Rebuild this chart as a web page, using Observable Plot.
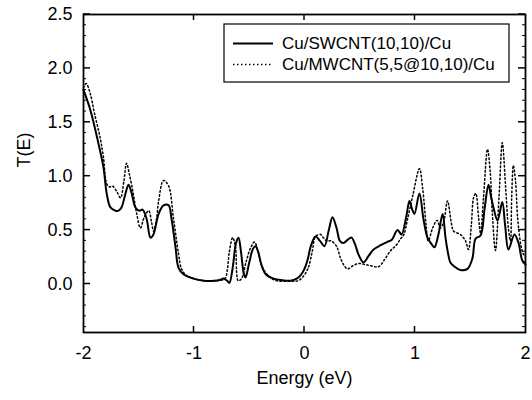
<!DOCTYPE html>
<html><head><meta charset="utf-8">
<script src="https://cdn.jsdelivr.net/npm/d3@7"></script>
<script src="https://cdn.jsdelivr.net/npm/@observablehq/plot@0.6"></script>
<style>
body{margin:0;background:#fff;}
#chart{position:relative;width:532px;height:400px;}
</style>
</head><body><div id="chart"></div>
<script>
const seriesNames = ["Cu/SWCNT(10,10)/Cu", "Cu/MWCNT(5,5@10,10)/Cu"];

const swE = [-2.0,-1.937,-1.864,-1.819,-1.79,-1.756,-1.71,-1.683,-1.656,-1.62,-1.593,-1.566,-1.53,-1.493,-1.466,-1.43,-1.394,-1.367,-1.32,-1.276,-1.23,-1.204,-1.167,-1.14,-1.095,-1.005,-0.91,
  -0.82,-0.76,-0.733,-0.70,-0.68,-0.65,-0.62,-0.597,-0.575,-0.55,-0.534,-0.50,-0.465,-0.443,-0.42,-0.39,-0.35,-0.28,-0.2,-0.127,-0.07,-0.036,0.0,0.027,0.06,0.1,0.14,0.18,0.22,0.253,0.29,0.32,0.353,0.39,0.425,0.46,0.49,0.534,0.58,0.625,0.69,0.75,0.79,0.842,0.878,0.92,0.95,0.975,0.995,1.04,1.077,1.113,1.15,1.176,1.21,1.25,1.276,1.30,1.32,1.36,1.41,1.475,1.52,1.548,1.593,1.63,1.665,1.69,1.71,1.747,1.79,1.815,1.846,1.9,1.937,1.97,2.0];
const swT = [1.80,1.61,1.30,1.08,0.84,0.71,0.68,0.68,0.71,0.84,0.92,0.85,0.71,0.68,0.69,0.61,0.43,0.46,0.65,0.73,0.73,0.61,0.34,0.15,0.09,0.05,0.03,
  0.03,0.04,0.05,0.03,0.01,0.15,0.38,0.43,0.30,0.10,0.06,0.20,0.33,0.35,0.30,0.18,0.09,0.05,0.035,0.03,0.05,0.08,0.14,0.22,0.36,0.44,0.40,0.35,0.50,0.62,0.52,0.40,0.38,0.41,0.43,0.36,0.27,0.20,0.26,0.32,0.36,0.39,0.41,0.50,0.46,0.62,0.77,0.69,0.65,0.84,0.60,0.43,0.37,0.34,0.45,0.65,0.43,0.28,0.20,0.16,0.13,0.14,0.24,0.42,0.45,0.70,0.92,0.80,0.71,0.59,0.76,0.55,0.32,0.46,0.38,0.22,0.18];

const mwE = [-2.0,-1.975,-1.94,-1.90,-1.85,-1.82,-1.79,-1.765,-1.74,-1.70,-1.665,-1.635,-1.61,-1.585,-1.55,-1.52,-1.485,-1.45,-1.41,-1.385,-1.366,-1.34,-1.32,-1.276,-1.23,-1.186,-1.14,-1.113,-1.07,-1.0,-0.91,
  -0.8,-0.72,-0.70,-0.68,-0.65,-0.625,-0.60,-0.57,-0.53,-0.49,-0.452,-0.42,-0.38,-0.31,-0.25,-0.15,-0.06,-0.02,0.03,0.07,0.10,0.145,0.17,0.20,0.24,0.29,0.326,0.36,0.39,0.44,0.49,0.55,0.60,0.67,0.72,0.78,0.83,0.87,0.90,0.93,0.98,1.04,1.07,1.10,1.12,1.16,1.20,1.23,1.26,1.294,1.33,1.35,1.41,1.457,1.484,1.51,1.53,1.55,1.575,1.593,1.62,1.656,1.68,1.70,1.728,1.76,1.79,1.82,1.845,1.864,1.875,1.89,1.91,1.93,1.96,1.98,2.0];
const mwT = [1.82,1.86,1.77,1.58,1.36,1.18,0.93,0.90,0.91,0.86,0.80,0.95,1.12,1.02,0.84,0.66,0.52,0.62,0.68,0.58,0.49,0.60,0.77,0.96,0.91,0.61,0.28,0.14,0.08,0.05,0.03,
  0.03,0.05,0.12,0.30,0.43,0.35,0.03,0.05,0.20,0.33,0.39,0.30,0.15,0.06,0.03,0.025,0.03,0.06,0.14,0.30,0.44,0.46,0.43,0.40,0.40,0.35,0.24,0.17,0.14,0.17,0.19,0.18,0.17,0.16,0.22,0.31,0.36,0.42,0.46,0.59,0.82,1.07,0.88,0.55,0.40,0.52,0.59,0.52,0.58,0.77,0.56,0.49,0.46,0.40,0.32,0.55,0.80,0.84,0.62,0.47,0.80,1.25,1.05,0.65,0.31,0.80,1.31,0.90,0.52,0.40,0.80,1.10,0.95,0.60,0.35,0.28,0.25];

const xTickValues = [-2, -1, 0, 1, 2];
const xInnerTicks = [-1, 0, 1];
const yTickValues = [0, 0.5, 1.0, 1.5, 2.0, 2.5];
const yMinorTicks = d3.range(-4, 25).map(i => i / 10).filter(v => Math.abs(v * 2 - Math.round(v * 2)) > 1e-6);
const xLabel = "Energy (eV)";
const yLabel = "T(E)";

const sw = swE.map((e, i) => ({E: e, T: swT[i], s: seriesNames[0]}));
const mw = mwE.map((e, i) => ({E: e, T: mwT[i], s: seriesNames[1]}));

const font = "'Liberation Sans', Arial, sans-serif";
const dots = "1.5,2.5";

const plot = Plot.plot({
  width: 532, height: 400,
  marginLeft: 83, marginRight: 7, marginTop: 14, marginBottom: 68,
  style: {fontFamily: font, fontSize: "18px", color: "#000", background: "#fff"},
  x: {domain: [-2, 2]},
  y: {domain: [-0.45, 2.5]},
  marks: [
    Plot.axisX({anchor: "bottom", ticks: xTickValues, tickSize: 0, tickPadding: 14, label: null, tickFormat: d => String(d)}),
    Plot.axisY({anchor: "left", ticks: yTickValues, tickSize: 0, tickPadding: 11, label: null, tickFormat: d3.format(".1f")}),
    Plot.line(mw, {x: "E", y: "T", stroke: "#000", strokeWidth: 1.5, strokeDasharray: dots, curve: "catmull-rom"}),
    Plot.line(sw, {x: "E", y: "T", stroke: "#000", strokeWidth: 2, curve: "catmull-rom"}),
    Plot.frame({stroke: "#000", strokeWidth: 1.8}),
    Plot.text([xLabel], {text: d => d, frameAnchor: "bottom", dy: 51, fontSize: 18}),
    Plot.text([yLabel], {text: d => d, frameAnchor: "left", rotate: -90, dx: -59, dy: -6, fontSize: 18})
  ]
});

const svg = d3.select(plot);
const sx = plot.scale("x"), sy = plot.scale("y");
const [x0, x1] = sx.range, [yb, yt] = sy.range;

// inward ticks on all four sides
const tg = svg.append("g").attr("stroke", "#000");
xInnerTicks.forEach(v => {
  const px = sx.apply(v);
  tg.append("line").attr("x1", px).attr("x2", px).attr("y1", yb).attr("y2", yb - 6).attr("stroke-width", 1.5);
  tg.append("line").attr("x1", px).attr("x2", px).attr("y1", yt).attr("y2", yt + 6).attr("stroke-width", 1.5);
});
yTickValues.forEach(v => {
  const py = sy.apply(v);
  tg.append("line").attr("x1", x0).attr("x2", x0 + 7).attr("y1", py).attr("y2", py).attr("stroke-width", 1.5);
  tg.append("line").attr("x1", x1).attr("x2", x1 - 7).attr("y1", py).attr("y2", py).attr("stroke-width", 1.5);
});
yMinorTicks.forEach(v => {
  const py = sy.apply(v);
  tg.append("line").attr("x1", x0).attr("x2", x0 + 3).attr("y1", py).attr("y2", py).attr("stroke-width", 1);
  tg.append("line").attr("x1", x1).attr("x2", x1 - 3).attr("y1", py).attr("y2", py).attr("stroke-width", 1);
});

// legend inside the plot area
const lg = svg.append("g").attr("font-family", font).attr("font-size", 17).attr("text-anchor", "start");
lg.append("rect").attr("x", 224).attr("y", 24).attr("width", 285).attr("height", 58)
  .attr("fill", "#fff").attr("stroke", "#000").attr("stroke-width", 1.2);
const rows = [{name: seriesNames[0], dash: null, w: 2}, {name: seriesNames[1], dash: dots, w: 1.5}];
rows.forEach((r, i) => {
  const cy = 43.5 + i * 21;
  lg.append("line").attr("x1", 233).attr("x2", 273).attr("y1", cy).attr("y2", cy)
    .attr("stroke", "#000").attr("stroke-width", r.w).attr("stroke-dasharray", r.dash);
  lg.append("text").attr("x", 282).attr("y", cy).attr("dy", "0.35em").attr("fill", "#000").text(r.name);
});

document.getElementById("chart").appendChild(plot);
</script>
</body></html>
